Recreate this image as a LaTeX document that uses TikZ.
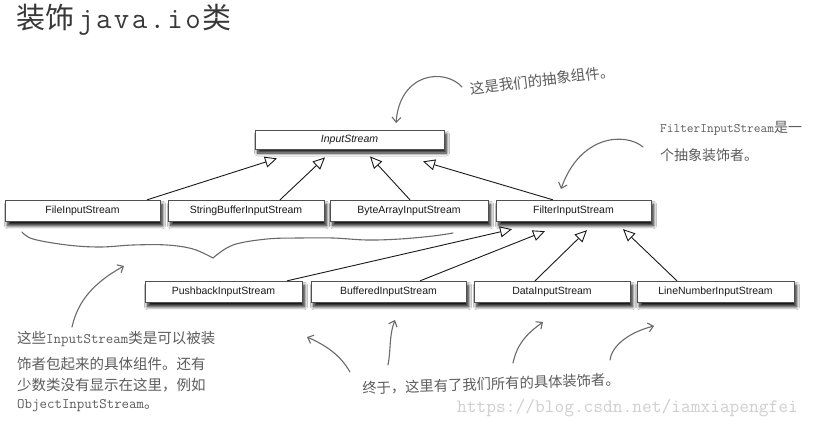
\documentclass[tikz,border=0pt]{standalone}
\usepackage{fontspec}
\setmainfont{Liberation Sans}
\newfontfamily\cjk{Noto Sans CJK SC}
\newfontfamily\titlett[LetterSpace=8]{Latin Modern Mono}
\usetikzlibrary{arrows.meta,shadows.blur,calc}
\definecolor{boxline}{HTML}{505050}
\definecolor{handcol}{HTML}{6A6A6A}
\definecolor{notecol}{HTML}{5C5C5C}
\definecolor{wmcol}{HTML}{CFCFCF}
\begin{document}
\begin{tikzpicture}[x=1pt,y=-1pt,
  cls/.style={draw=boxline, fill=white, line width=0.8pt, minimum width=156pt,
    minimum height=21.5pt, inner sep=0pt, text=black!90,
    font=\fontsize{10.5}{12}\selectfont,
    blur shadow={shadow xshift=2.5pt, shadow yshift=-4pt, shadow blur steps=8,
      shadow blur radius=3pt, shadow opacity=90}},
  gen/.style={draw=black!90, line width=0.9pt,
    -{Triangle[open, length=12pt, width=11pt, line width=0.9pt]}},
  note/.style={text=notecol, inner sep=0pt, font=\cjk\fontsize{14.5}{16}\selectfont},
  hand/.style={draw=handcol, line width=1.1pt, line cap=round,
    -{Straight Barb[length=5pt, width=9pt, line width=1.1pt]}},
  bracecurve/.style={draw=handcol, line width=1.1pt, line cap=round}]
\fill[white] (0,0) rectangle (818,428);
\useasboundingbox (0,0) rectangle (818,428);

% title
\node[anchor=west, inner sep=0pt, text=black!78, font=\cjk\fontsize{29}{32}\selectfont] (title) at (16,20)
  {装饰\hspace{4pt}{\titlett\fontsize{30}{32}\selectfont java.io}\hspace{2pt}类};

% class boxes
\node[cls, minimum width=189pt, minimum height=19pt] (is) at (349.5,139.5) {\itshape InputStream};
\node[cls, minimum width=155pt] (fis) at (82.5,211) {FileInputStream};
\node[cls] (sbis) at (246,211) {StringBufferInputStream};
\node[cls, minimum width=158pt] (bais) at (409,211) {ByteArrayInputStream};
\node[cls, minimum width=155pt] (filt) at (573.5,211) {FilterInputStream};
\node[cls, minimum width=157pt] (pbis) at (223.5,292) {PushbackInputStream};
\node[cls, minimum width=155pt] (bis) at (388.5,292) {BufferedInputStream};
\node[cls] (dis) at (552,292) {DataInputStream};
\node[cls, minimum width=157pt] (lnis) at (715.5,292) {LineNumberInputStream};

% arrow tips
\coordinate (t1) at ($(is.south)+(-72.5,9)$);
\coordinate (t2) at ($(is.south)+(-24.5,8)$);
\coordinate (t3) at ($(is.south)+(20.5,7)$);
\coordinate (t4) at ($(is.south)+(73.5,12)$);
\coordinate (u1) at ($(filt.south)+(-61.5,7)$);
\coordinate (u2) at ($(filt.south)+(-28.5,9)$);
\coordinate (u3) at ($(filt.south)+(13.5,8)$);
\coordinate (u4) at ($(filt.south)+(49.5,7)$);

\draw[gen] ($(fis.north)+(64.5,0)$) -- (t1);
\draw[gen] ($(sbis.north)+(34,0)$) -- (t2);
\draw[gen] ($(bais.north)+(1,0)$) -- (t3);
\draw[gen] ($(filt.north)+(-20.5,0)$) -- (t4);
\draw[gen] ($(pbis.north)+(63.5,0)$) -- (u1);
\draw[gen] ($(bis.north)+(31.5,0)$) -- (u2);
\draw[gen] ($(dis.north)+(-17,0)$) -- (u3);
\draw[gen] ($(lnis.north)+(-38.5,0)$) -- (u4);

% notes
\node[note, rotate=7] (n1) at (542,80) {这是我们的抽象组件。};
\node[note, anchor=west, font=\cjk\fontsize{14}{16}\selectfont] (n2a) at (660,128) {{\ttfamily\fontsize{13}{16}\selectfont FilterInputStream}是一};
\node[note, anchor=west, font=\cjk\fontsize{14}{16}\selectfont] (n2b) at (660,155) {个抽象装饰者。};
\node[note, anchor=west] (n3a) at (17,339) {这些{\ttfamily InputStream}类是可以被装};
\node[note, anchor=west] (n3b) at (17,364) {饰者包起来的具体组件。还有};
\node[note, anchor=west] (n3c) at (17,385) {少数类没有显示在这里，例如};
\node[note, anchor=west] (n3d) at (17,406) {{\ttfamily ObjectInputStream}。};
\node[note, rotate=2, font=\cjk\fontsize{14.3}{16}\selectfont] (n4) at (491,384) {终于，这里有了我们所有的具体装饰者。};

% watermark
\node[anchor=west, inner sep=0pt, text=wmcol, font=\ttfamily\fontsize{18.9}{20}\selectfont] (wm) at (457,408) {https://blog.csdn.net/iamxiapengfei};

% hand drawn arrows
\coordinate (a1s) at (462,87);
\coordinate (a1e) at (396,123);
\draw[hand] (a1s) .. controls (445,68) and (400,72) .. (a1e);
\coordinate (a2s) at (643,147);
\coordinate (a2e) at (561,189);
\draw[hand] (a2s) .. controls (625,132) and (580,135) .. (a2e);
\coordinate (a3s) at (72,327);
\coordinate (a3e) at (124,266);
\draw[hand] (a3s) .. controls (78,300) and (95,282) .. (a3e);
\coordinate (a4s) at (350,372);
\coordinate (a4e) at (307,337);
\draw[hand] (a4s) .. controls (342,358) and (330,347) .. (a4e);
\coordinate (a5s) at (388,365);
\coordinate (a5e) at (395,320);
\draw[hand] (a5s) .. controls (391,350) and (389,335) .. (a5e);
\coordinate (a6s) at (513,363);
\coordinate (a6e) at (543,322);
\draw[hand] (a6s) .. controls (517,345) and (525,335) .. (a6e);
\coordinate (a7s) at (610,360);
\coordinate (a7e) at (654,326);
\draw[hand] (a7s) .. controls (612,345) and (630,332) .. (a7e);

% brace
\draw[bracecurve] plot[smooth, tension=0.6] coordinates {(22,232) (33,239) (67,245) (100,247) (133,245) (167,245) (193,249) (213,258)};
\draw[bracecurve] plot[smooth, tension=0.6] coordinates {(213,258) (233,245) (267,239) (300,238) (333,238) (367,240) (400,239) (433,236) (453,233)};
\end{tikzpicture}
\end{document}
